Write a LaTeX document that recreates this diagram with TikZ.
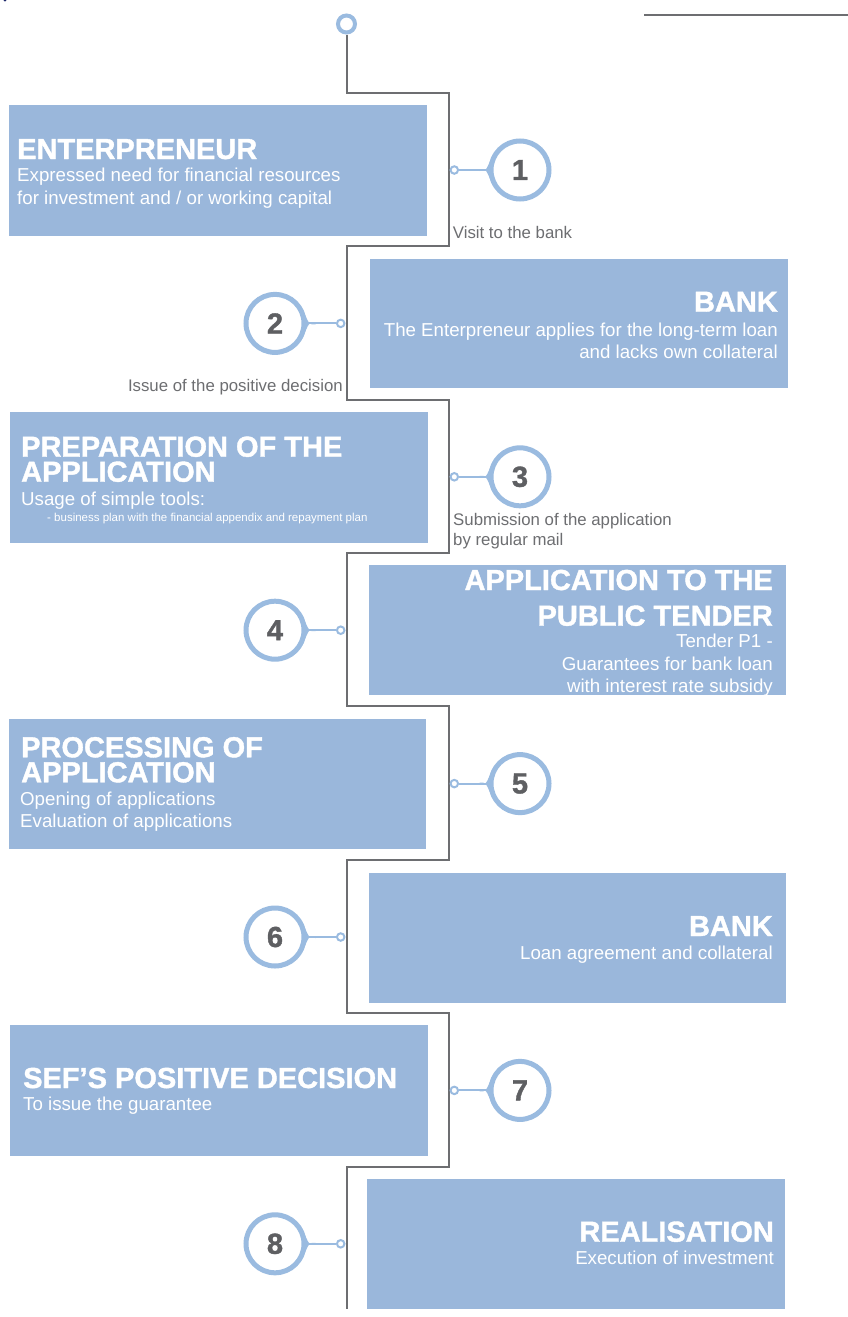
\documentclass[tikz,border=0pt]{standalone}
\usepackage{fontspec}
\setmainfont{Liberation Sans}
\newfontfamily\headfont{Liberation Sans Bold}[FakeBold=1.3]
\usetikzlibrary{calc}
\definecolor{boxblue}{HTML}{9AB7DB}
\definecolor{ringblue}{HTML}{9ABBE0}
\definecolor{linegray}{HTML}{6D6E71}
\definecolor{numgray}{HTML}{5E5F62}
\definecolor{navyblue}{HTML}{1F2A6B}
\tikzset{
  stepbox/.style={fill=boxblue, draw=none, anchor=north west, inner sep=0pt},
  head/.style={font=\headfont\fontsize{29}{25}\selectfont, text=white, inner sep=0pt},
  body/.style={font=\fontsize{18.7}{22}\selectfont, text=white, inner sep=0pt},
  tiny/.style={font=\fontsize{11.5}{13}\selectfont, text=white, inner sep=0pt},
  glabel/.style={font=\fontsize{16.8}{20}\selectfont, text=linegray, inner sep=0pt},
  ring/.style={circle, draw=ringblue, line width=5pt, fill=white, minimum size=58pt, inner sep=0pt,
    font=\headfont\fontsize{29}{29}\selectfont, text=numgray},
  dotc/.style={circle, draw=ringblue, line width=2pt, fill=white, minimum size=7.5pt, inner sep=0pt},
  conn/.style={draw=ringblue, line width=2pt},
  spine/.style={draw=linegray, line width=2pt},
}
\begin{document}
\begin{tikzpicture}[x=1pt, y=-1pt]
\useasboundingbox (0,0) rectangle (848,1317);
\fill[white] (0,0) rectangle (848,1317);
\fill[navyblue] (5,0) circle (1.6);

% top-right rule
\coordinate (tr1) at (644,14.7);
\coordinate (tr2) at (848,14.7);
\draw[spine] (tr1) -- (tr2);

% boxes
\node[stepbox, minimum width=418pt, minimum height=130.7pt] (b1) at (9,105) {};
\node[stepbox, minimum width=417.6pt, minimum height=129.7pt] (b2) at (370,258.3) {};
\node[stepbox, minimum width=417.7pt, minimum height=130.7pt] (b3) at (10,412) {};
\node[stepbox, minimum width=417.2pt, minimum height=130pt] (b4) at (368.5,565) {};
\node[stepbox, minimum width=417.1pt, minimum height=130pt] (b5) at (8.5,718.3) {};
\node[stepbox, minimum width=417.2pt, minimum height=130.4pt] (b6) at (368.5,872.3) {};
\node[stepbox, minimum width=418pt, minimum height=130.7pt] (b7) at (10,1025) {};
\node[stepbox, minimum width=418pt, minimum height=130pt] (b8) at (367,1179) {};

% spine
\node[circle, draw=ringblue, line width=4pt, fill=white, minimum size=17pt, inner sep=0pt] (top) at (346.5,24) {};
\coordinate (k1) at (448.5,92.7);
\coordinate (k2) at (346.5,246.1);
\coordinate (k3) at (448.5,399.5);
\coordinate (k4) at (346.5,552.9);
\coordinate (k5) at (448.5,706.3);
\coordinate (k6) at (346.5,859.7);
\coordinate (k7) at (448.5,1013.1);
\coordinate (k8) at (346.5,1166.5);
\coordinate (kend) at (346.5,1309);
\draw[spine] (top.south) |- (k1) |- (k2) |- (k3) |- (k4) |- (k5) |- (k6) |- (k7) |- (k8) -- (kend);

% right-column rings
\foreach \i/\y in {1/170, 3/476.8, 5/783.6, 7/1090.4} {
  \node[ring] (c\i) at (520,\y) {\i};
  \node[dotc] (d\i) at (454.3,\y) {};
  \fill[ringblue] (c\i.150) .. controls ($(c\i.west)+(-2.5,1.3)$) .. ($(c\i.west)+(-9,1)$)
     -- ($(c\i.west)+(-9,-1)$) .. controls ($(c\i.west)+(-2.5,-1.3)$) .. (c\i.210) -- cycle;
  \draw[conn] (d\i) -- (c\i);
}
% left-column rings
\foreach \i/\y in {2/323.4, 4/630.2, 6/937, 8/1243.8} {
  \node[ring] (c\i) at (275,\y) {\i};
  \node[dotc] (d\i) at (340.7,\y) {};
  \fill[ringblue] (c\i.30) .. controls ($(c\i.east)+(2.5,1.3)$) .. ($(c\i.east)+(9,1)$)
     -- ($(c\i.east)+(9,-1)$) .. controls ($(c\i.east)+(2.5,-1.3)$) .. (c\i.-30) -- cycle;
  \draw[conn] (d\i) -- (c\i);
}

% box 1
\node[head, anchor=base west] (t1h) at (17,159) {ENTERPRENEUR};
\node[body, anchor=base west] (t1a) at (17,181.7) {Expressed need for financial resources};
\node[body, anchor=base west] (t1b) at (17,204.3) {for investment and / or working capital};
\node[glabel, anchor=base west] (l1) at (452.7,238.5) {Visit to the bank};

% box 2
\node[head, anchor=base east] (t2h) at (778,311.7) {BANK};
\node[body, anchor=base east] (t2a) at (778,336) {The Enterpreneur applies for the long-term loan};
\node[body, anchor=base east] (t2b) at (778,358) {and lacks own collateral};
\node[glabel, anchor=base east] (l2) at (343,391.5) {Issue of the positive decision};

% box 3
\node[head, align=left, anchor=base west] (t3h) at (21,481.7) {PREPARATION OF THE\\APPLICATION};
\node[body, anchor=base west] (t3a) at (21,505.5) {Usage of simple tools:};
\node[tiny, anchor=base west] (t3b) at (47,521) {- business plan with the financial appendix and repayment plan};
\node[glabel, anchor=base west] (l3a) at (453,525) {Submission of the application};
\node[glabel, anchor=base west] (l3b) at (453,545) {by regular mail};

% box 4
\node[head, anchor=base east] (t4h) at (773,590) {APPLICATION TO THE};
\node[head, anchor=base east] (t4i) at (773,625.7) {PUBLIC TENDER};
\node[body, anchor=base east] (t4a) at (773,647.7) {Tender P1 -};
\node[body, anchor=base east] (t4b) at (773,670) {Guarantees for bank loan};
\node[body, anchor=base east] (t4c) at (773,692) {with interest rate subsidy};

% box 5
\node[head, align=left, anchor=base west] (t5h) at (21,782.3) {PROCESSING OF\\APPLICATION};
\node[body, anchor=base west] (t5a) at (20,805) {Opening of applications};
\node[body, anchor=base west] (t5b) at (20,827.7) {Evaluation of applications};

% box 6
\node[head, anchor=base east] (t6h) at (773,936) {BANK};
\node[body, anchor=base east] (t6a) at (773,959.3) {Loan agreement and collateral};

% box 7
\node[head, anchor=base west] (t7h) at (23,1088) {SEF’S POSITIVE DECISION};
\node[body, anchor=base west] (t7a) at (23,1110.7) {To issue the guarantee};

% box 8
\node[head, anchor=base east] (t8h) at (774,1241.7) {REALISATION};
\node[body, anchor=base east] (t8a) at (774,1264) {Execution of investment};
\end{tikzpicture}
\end{document}
